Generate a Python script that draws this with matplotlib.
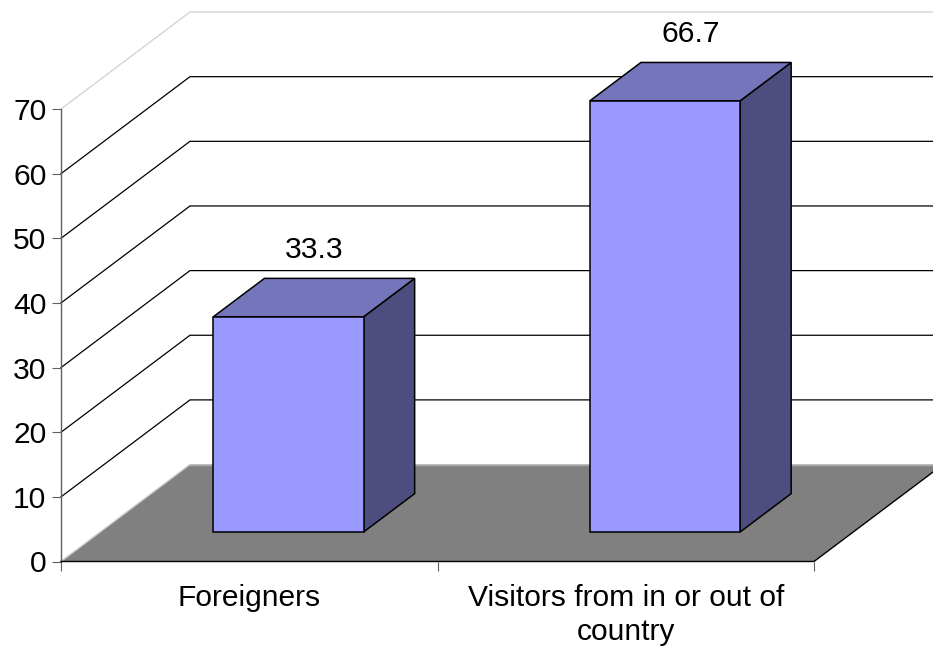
import matplotlib
matplotlib.use('Agg')
import matplotlib.pyplot as plt
from matplotlib.patches import Polygon

categories = ['Foreigners', 'Visitors from in or out of\ncountry']
values = [33.3, 66.7]
yticks = [0, 10, 20, 30, 40, 50, 60, 70]

# depth vector of the 3d box, in data units
DX = 0.3426
DY = 15.0
# bars sit between these fractions of the floor depth
D0 = 0.304
D1 = 0.70
BAR_W = 0.399

plt.rcParams['font.family'] = ['Liberation Sans', 'DejaVu Sans']
plt.rcParams['font.size'] = 21.6

W, H = 933, 648
fig = plt.figure(figsize=(W / 100, H / 100), dpi=100)
ax = fig.add_axes([61 / W, 1 - 561.5 / H, 753 / W, 452.5 / H])
ax.set_xlim(0, 2)
ax.set_ylim(0, 70)


def proj(x, y, d):
    return (x + DX * d, y + DY * d)


# back wall grid lines
for v in yticks:
    col = '#d0d0d0' if v == 70 else '#000000'
    if v > 0:
        p0 = proj(0, v, 0)
        p1 = proj(0, v, 1)
        p2 = proj(2.5, v, 1)
        ax.plot([p0[0], p1[0], p2[0]], [p0[1], p1[1], p2[1]], color=col, lw=0.9,
                clip_on=False, zorder=1, solid_joinstyle='miter')

# floor
floor = [proj(0, 0, 0), proj(2, 0, 0), proj(2, 0, 1), proj(0, 0, 1)]
ax.add_patch(Polygon(floor, closed=True, facecolor='#808080', edgecolor='none',
                     clip_on=False, zorder=2))
ax.plot([floor[3][0], floor[2][0]], [floor[3][1], floor[2][1]], color='#a8a8a8', lw=1,
        clip_on=False, zorder=2)
ax.plot([floor[0][0], floor[3][0]], [floor[0][1], floor[3][1]], color='#c8c8c8', lw=1,
        clip_on=False, zorder=2)
ax.plot([floor[0][0], floor[1][0], floor[2][0]], [floor[0][1], floor[1][1], floor[2][1]],
        color='#000000', lw=1, clip_on=False, zorder=3)

# bars
for i, v in enumerate(values):
    xl = i + 0.5 - BAR_W / 2
    xr = i + 0.5 + BAR_W / 2
    front = [proj(xl, 0, D0), proj(xr, 0, D0), proj(xr, v, D0), proj(xl, v, D0)]
    top = [proj(xl, v, D0), proj(xr, v, D0), proj(xr, v, D1), proj(xl, v, D1)]
    side = [proj(xr, 0, D0), proj(xr, 0, D1), proj(xr, v, D1), proj(xr, v, D0)]
    for pts, c in [(side, '#4d4d80'), (top, '#7575bb'), (front, '#9999ff')]:
        ax.add_patch(Polygon(pts, closed=True, facecolor=c, edgecolor='#000000', lw=1.1,
                             joinstyle='miter', clip_on=False, zorder=4))
    # value label above the middle of the bar top
    lx, ly = proj(i + 0.5, v, (D0 + D1) / 2)
    ax.annotate(str(v), (lx, ly), xytext=(0, 40), textcoords='offset pixels',
                ha='center', va='baseline', annotation_clip=False, zorder=5)

ax.patch.set_visible(False)
for s in ['top', 'right', 'bottom']:
    ax.spines[s].set_visible(False)
ax.spines['left'].set_color('#606060')
ax.spines['left'].set_linewidth(1)
ax.spines['left'].set_bounds(0, 70)

ax.set_yticks(yticks)
ax.tick_params(axis='y', length=6.5, width=0.8, color='#606060', pad=4)
ax.set_xticks([0, 1, 2])
ax.set_xticklabels([])
ax.tick_params(axis='x', which='major', length=6.5, width=0.8, color='#606060')
ax.set_xticks([0.5, 1.5], minor=True)
ax.set_xticklabels(categories, minor=True, linespacing=1.24)
ax.tick_params(axis='x', which='minor', length=0, pad=16.5)

fig.savefig('out.png', dpi=100)
